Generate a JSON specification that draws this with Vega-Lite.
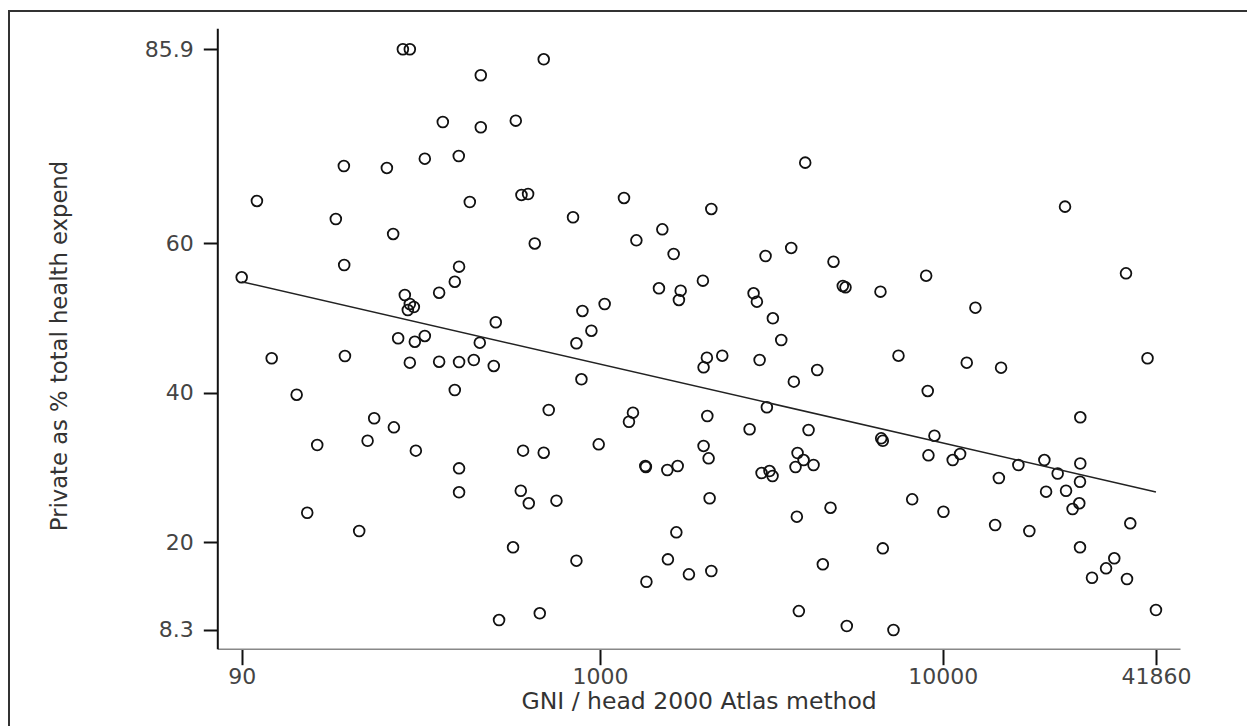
{
  "$schema": "https://vega.github.io/schema/vega-lite/v6.json",
  "width": 1248,
  "height": 725,
  "autosize": {"type": "none"},
  "padding": {"left": 9, "top": 11, "right": -10, "bottom": -10},
  "background": "white",
  "config": {
    "view": {"stroke": "#333", "strokeWidth": 2},
    "font": "DejaVu Sans"
  },
  "datasets": {
    "pts": [
      {"gni":265.8,"priv":85.9},{"gni":278.5,"priv":85.9},{"gni":684.7,"priv":84.56},{"gni":448.6,"priv":82.43},
      {"gni":347.6,"priv":76.18},{"gni":448.6,"priv":75.48},{"gni":567.5,"priv":76.36},{"gni":308.0,"priv":71.28},
      {"gni":386.9,"priv":71.64},{"gni":3967,"priv":70.75},{"gni":416.7,"priv":65.49},{"gni":589.6,"priv":66.43},
      {"gni":616.4,"priv":66.56},{"gni":1174,"priv":66.03},{"gni":833.7,"priv":63.45},{"gni":2111,"priv":64.56},
      {"gni":1519,"priv":61.84},{"gni":644.7,"priv":59.95},{"gni":1276,"priv":60.37},{"gni":1639,"priv":58.54},
      {"gni":3039,"priv":58.27},{"gni":3611,"priv":59.35},{"gni":22725,"priv":64.87},{"gni":4797,"priv":57.51},
      {"gni":5107,"priv":54.27},{"gni":5200,"priv":54.09},{"gni":6577,"priv":53.51},{"gni":8940,"priv":55.64},
      {"gni":12445,"priv":51.37},{"gni":34230,"priv":55.96},{"gni":7423,"priv":44.95},{"gni":11742,"priv":44.02},
      {"gni":14788,"priv":43.35},{"gni":4300,"priv":43.04},{"gni":9035,"priv":40.24},{"gni":39560,"priv":44.61},
      {"gni":25180,"priv":36.72},{"gni":4057,"priv":35.02},{"gni":6609,"priv":33.91},{"gni":6681,"priv":33.59},
      {"gni":9452,"priv":34.26},{"gni":9078,"priv":31.64},{"gni":10686,"priv":31.01},{"gni":11230,"priv":31.82},
      {"gni":3768,"priv":31.95},{"gni":3923,"priv":31.01},{"gni":4195,"priv":30.35},{"gni":3717,"priv":30.08},
      {"gni":16610,"priv":30.35},{"gni":19780,"priv":31.01},{"gni":21630,"priv":29.21},{"gni":25180,"priv":30.55},
      {"gni":25130,"priv":28.11},{"gni":14570,"priv":28.61},{"gni":25010,"priv":25.23},{"gni":23910,"priv":24.47},
      {"gni":25130,"priv":19.35},{"gni":35230,"priv":22.55},{"gni":31640,"priv":17.88},{"gni":29940,"priv":16.54},
      {"gni":27240,"priv":15.28},{"gni":34460,"priv":15.11},{"gni":41860,"priv":10.97},{"gni":20010,"priv":26.78},
      {"gni":22880,"priv":26.91},{"gni":17880,"priv":21.53},{"gni":14210,"priv":22.33},{"gni":8139,"priv":25.76},
      {"gni":10040,"priv":24.10},{"gni":6681,"priv":19.21},{"gni":5245,"priv":8.83},{"gni":7177,"priv":8.3},
      {"gni":4702,"priv":24.64},{"gni":3750,"priv":23.44},{"gni":4465,"priv":17.08},{"gni":3801,"priv":10.83},
      {"gni":2959,"priv":29.28},{"gni":3121,"priv":29.54},{"gni":3185,"priv":28.88},{"gni":2730,"priv":35.12},
      {"gni":2920,"priv":44.38},{"gni":2804,"priv":53.29},{"gni":2867,"priv":52.17},{"gni":3192,"priv":49.95},
      {"gni":3377,"priv":47.05},{"gni":3675,"priv":41.48},{"gni":3066,"priv":38.06},{"gni":2049,"priv":44.69},
      {"gni":2004,"priv":43.40},{"gni":2272,"priv":44.95},{"gni":1995,"priv":54.98},{"gni":1485,"priv":53.96},
      {"gni":1718,"priv":53.64},{"gni":1698,"priv":52.40},{"gni":888.0,"priv":50.93},{"gni":1031,"priv":51.86},
      {"gni":943.2,"priv":48.29},{"gni":852.9,"priv":46.61},{"gni":496.1,"priv":49.42},{"gni":387.7,"priv":56.85},
      {"gni":376.7,"priv":54.84},{"gni":339.1,"priv":53.37},{"gni":269.3,"priv":53.06},{"gni":278.5,"priv":51.86},
      {"gni":286.1,"priv":51.46},{"gni":274.8,"priv":51.06},{"gni":257.5,"priv":47.28},{"gni":288.0,"priv":46.82},
      {"gni":308.0,"priv":47.59},{"gni":445.6,"priv":46.69},{"gni":278.5,"priv":44.02},{"gni":339.1,"priv":44.15},
      {"gni":387.7,"priv":44.11},{"gni":428.0,"priv":44.38},{"gni":489.5,"priv":43.58},{"gni":376.7,"priv":40.37},
      {"gni":882.1,"priv":41.80},{"gni":708.1,"priv":37.70},{"gni":1247,"priv":37.34},{"gni":1214,"priv":36.13},
      {"gni":2055,"priv":36.89},{"gni":990.6,"priv":33.11},{"gni":2004,"priv":32.89},{"gni":2073,"priv":31.24},
      {"gni":1355,"priv":30.21},{"gni":1360,"priv":30.08},{"gni":1571,"priv":29.68},{"gni":1684,"priv":30.21},
      {"gni":2087,"priv":25.90},{"gni":1669,"priv":21.35},{"gni":1577,"priv":17.74},{"gni":1365,"priv":14.75},
      {"gni":1816,"priv":15.74},{"gni":2111,"priv":16.18},{"gni":290.0,"priv":32.26},{"gni":596.0,"priv":32.26},
      {"gni":684.7,"priv":31.99},{"gni":387.7,"priv":29.90},{"gni":387.7,"priv":26.70},{"gni":586.9,"priv":26.91},
      {"gni":619.3,"priv":25.23},{"gni":745.8,"priv":25.58},{"gni":557.2,"priv":19.35},{"gni":852.9,"priv":17.56},
      {"gni":507.2,"priv":9.63},{"gni":666.7,"priv":10.53},{"gni":90,"priv":55.43},{"gni":99.7,"priv":65.63},
      {"gni":110.1,"priv":44.61},{"gni":130.2,"priv":39.74},{"gni":139.8,"priv":23.97},{"gni":149.5,"priv":33.02},
      {"gni":169.4,"priv":63.22},{"gni":178.8,"priv":70.30},{"gni":179.2,"priv":57.07},{"gni":180.1,"priv":44.91},
      {"gni":198.2,"priv":21.53},{"gni":209.7,"priv":33.59},{"gni":219.2,"priv":36.59},{"gni":238.7,"priv":70.04},
      {"gni":249.0,"priv":61.22},{"gni":250.2,"priv":35.38}
    ],
    "fit": [
      {"gni":90,"priv":54.84},{"gni":41860,"priv":26.74}
    ]
  },
  "encoding": {
    "x": {
      "field": "gni", "type": "quantitative",
      "scale": {"type": "log", "domain": [76.4, 49200], "range": [208.3, 1171], "nice": false},
      "axis": {
        "values": [90, 1000, 10000, 41860], "format": "d",
        "title": "GNI / head 2000 Atlas method",
        "offset": -87.3, "grid": false,
        "domainColor": "#888", "domainWidth": 1.5,
        "tickColor": "#111", "tickWidth": 2, "tickSize": 16,
        "labelFont": "DejaVu Sans", "labelFontSize": 22, "labelColor": "#444",
        "labelBaseline": "alphabetic", "labelPadding": 18.6, "labelFlush": false, "labelOverlap": false,
        "titleFont": "DejaVu Sans", "titleFontSize": 23.5, "titleFontWeight": "normal", "titleColor": "#333",
        "titleBaseline": "alphabetic", "titleY": 59.6
      }
    },
    "y": {
      "field": "priv", "type": "quantitative",
      "scale": {"type": "linear", "domain": [5.8, 88.7], "range": [637.7, 17.3], "nice": false, "zero": false},
      "axis": {
        "values": [8.3, 20, 40, 60, 85.9], "format": ".3~g",
        "title": "Private as % total health expend",
        "offset": -208.3, "grid": false,
        "domainColor": "#111", "domainWidth": 2,
        "tickColor": "#111", "tickWidth": 2, "tickSize": 14,
        "labelFont": "DejaVu Sans", "labelFontSize": 22, "labelColor": "#444",
        "labelPadding": 10, "labelFlush": false, "labelOverlap": false,
        "titleFont": "DejaVu Sans", "titleFontSize": 22.7, "titleFontWeight": "normal", "titleColor": "#333",
        "titleBaseline": "alphabetic", "titleAngle": -90, "titleAlign": "center",
        "titleX": -151, "titleY": 334.5
      }
    }
  },
  "layer": [
    {
      "data": {"name": "pts"},
      "mark": {"type": "point", "shape": "circle", "filled": false, "stroke": "#111", "strokeWidth": 1.8, "size": 115, "opacity": 1}
    },
    {
      "data": {"name": "fit"},
      "mark": {"type": "line", "stroke": "#222", "strokeWidth": 1.5}
    }
  ]
}
